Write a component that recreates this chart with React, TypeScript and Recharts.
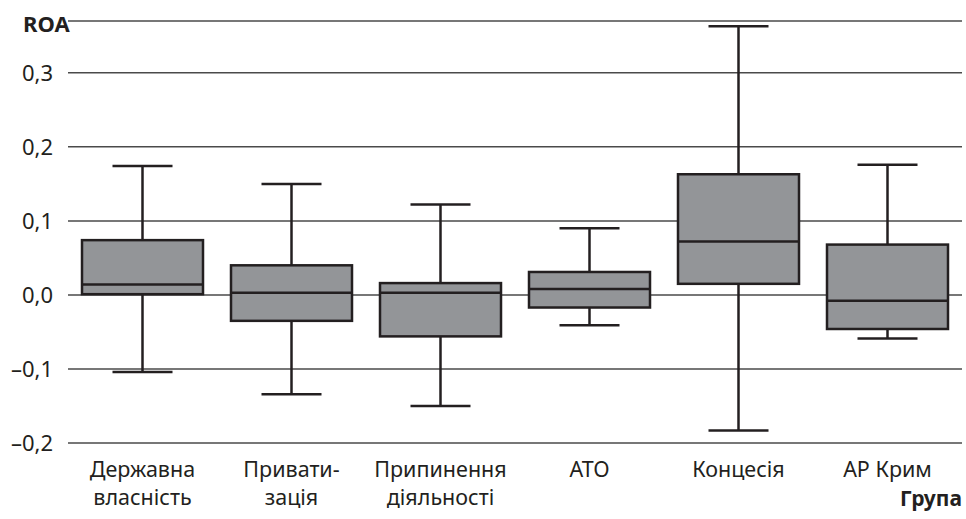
import { ComposedChart, Bar, XAxis, YAxis, CartesianGrid } from "recharts";

const categories = [
  "Державна\nвласність",
  "Привати-\nзація",
  "Припинення\nдіяльності",
  "АТО",
  "Концесія",
  "АР Крим",
];
const mins = [-0.104, -0.134, -0.15, -0.041, -0.183, -0.059];
const q1s = [0.001, -0.035, -0.056, -0.017, 0.015, -0.046];
const medians = [0.014, 0.003, 0.003, 0.008, 0.072, -0.008];
const q3s = [0.074, 0.04, 0.016, 0.031, 0.163, 0.068];
const maxs = [0.174, 0.15, 0.122, 0.09, 0.363, 0.176];
const yTicks = [-0.2, -0.1, 0, 0.1, 0.2, 0.3];

const data = categories.map((name, i) => ({
  name,
  min: mins[i],
  q1: q1s[i],
  median: medians[i],
  q3: q3s[i],
  max: maxs[i],
}));

const INK = "#231f20";
const FONT = "'Noto Sans', sans-serif";

const fmt = (v: number) => {
  const s = Math.abs(v).toFixed(1).replace(".", ",");
  return v < -1e-9 ? "–" + s : s;
};

const BoxShape = (props: any) => {
  const { x, y, width, height, payload } = props;
  const { min, max, q1, median, q3 } = payload;
  const py = (v: number) => y + ((max - v) / (max - min)) * height;
  const cx = x + width / 2;
  const cap = 30;
  return (
    <g stroke={INK} strokeWidth={2.5}>
      <line x1={cx} x2={cx} y1={py(max)} y2={py(q3)} />
      <line x1={cx} x2={cx} y1={py(q1)} y2={py(min)} />
      <line x1={cx - cap} x2={cx + cap} y1={py(max)} y2={py(max)} />
      <line x1={cx - cap} x2={cx + cap} y1={py(min)} y2={py(min)} />
      <rect x={x} y={py(q3)} width={width} height={py(q1) - py(q3)} fill="#939598" />
      <line x1={x} x2={x + width} y1={py(median)} y2={py(median)} />
    </g>
  );
};

// two-line category labels, one <text> per line
const CatTick = (props: any) => {
  const { x, y, payload } = props;
  const lines = String(payload.value).split("\n");
  return (
    <g>
      {lines.map((l, i) => (
        <text
          key={i}
          x={x}
          y={y + 26 + i * 28}
          textAnchor="middle"
          fill={INK}
          fontSize={21.5}
          fontFamily={FONT}
        >
          {l}
        </text>
      ))}
    </g>
  );
};

export default function App() {
  return (
    <div style={{ position: "relative", width: 966, height: 519, background: "#fff" }}>
      <style>{`body{margin:0}`}</style>
      <ComposedChart
        width={966}
        height={519}
        data={data}
        margin={{ top: 21, right: 4, left: 0, bottom: 0 }}
      >
        <CartesianGrid vertical={false} stroke="#4a4a4a" strokeWidth={1.5} />
        <XAxis
          dataKey="name"
          height={76}
          axisLine={false}
          tickLine={false}
          interval={0}
          tick={<CatTick />}
        />
        <YAxis
          width={68}
          domain={[-0.2, 0.37]}
          ticks={yTicks}
          axisLine={false}
          tickLine={false}
          tickSize={0}
          tickMargin={15}
          tickFormatter={fmt}
          tick={{ fill: INK, fontSize: 22, fontFamily: FONT }}
        />
        <Bar
          dataKey={(d: any) => [d.min, d.max]}
          barSize={121}
          shape={<BoxShape />}
          isAnimationActive={false}
        />
      </ComposedChart>
      <svg
        width={966}
        height={519}
        style={{ position: "absolute", left: 0, top: 0, pointerEvents: "none" }}
      >
        <text x={23} y={32} fill={INK} fontSize={22} fontWeight="bold" fontFamily={FONT}>
          ROA
        </text>
        <text x={962} y={506} textAnchor="end" fill={INK} fontSize={21} fontWeight="bold" fontFamily={FONT}>
          Група
        </text>
      </svg>
    </div>
  );
}
